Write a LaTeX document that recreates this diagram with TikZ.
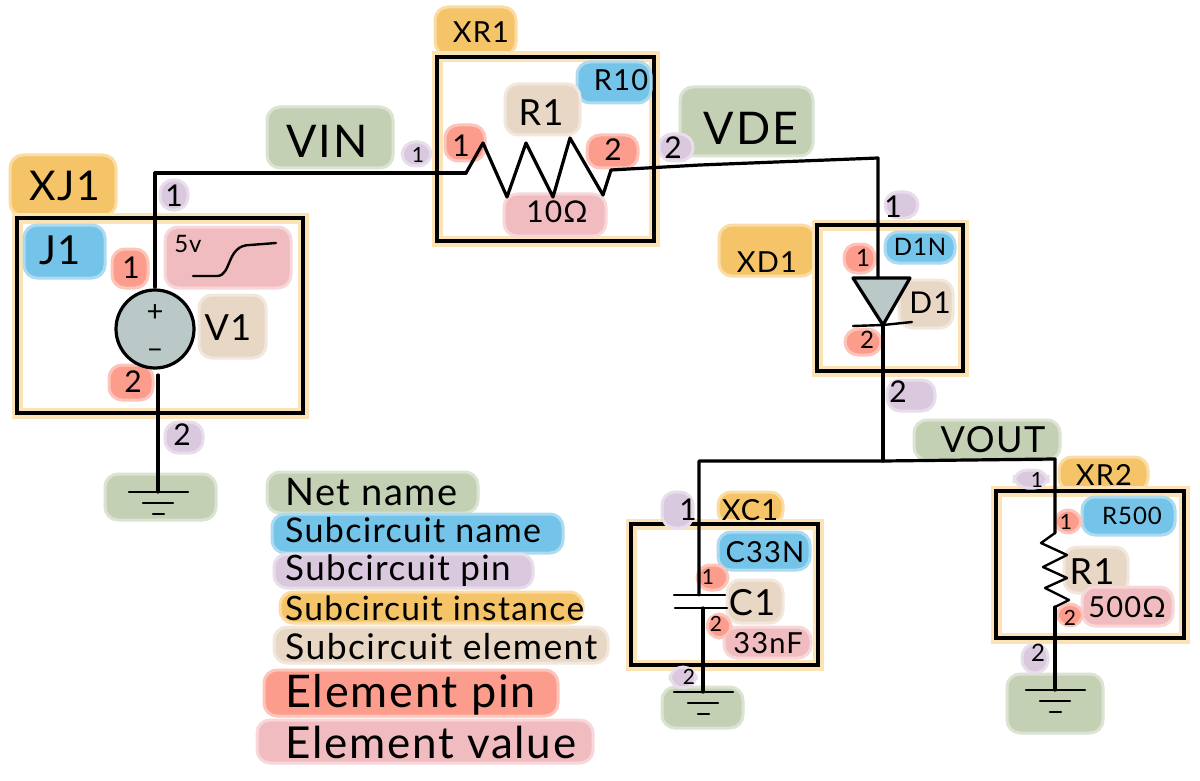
\documentclass[tikz,border=0pt]{standalone}
\usepackage{fontspec}
\setmainfont[LetterSpace=4]{Lato}
\usepackage{tikz}
\usetikzlibrary{positioning}
\definecolor{netgreen}{HTML}{C3D0B4}
\definecolor{subblue}{HTML}{74C3E8}
\definecolor{pinpurple}{HTML}{D9C8DE}
\definecolor{instorange}{HTML}{F6C468}
\definecolor{framelight}{HTML}{FBE3B6}
\definecolor{elemtan}{HTML}{E8D7C5}
\definecolor{pinred}{HTML}{FB9C8C}
\definecolor{valpink}{HTML}{F1BCC0}
\definecolor{devgrey}{HTML}{BAC8C8}
\tikzset{
  wash/.style={fill=#1,draw=#1!60,line width=3pt,rounded corners=13pt},
  frame/.style={shape=rectangle,draw=black,line width=3.2pt,inner sep=0,preaction={draw=framelight,line width=11pt}},
  wire/.style={draw=black,line width=3.2pt,line cap=round,line join=round},
  thin wire/.style={draw=black,line width=2.4pt,line cap=round,line join=round},
  txthuge/.style={font=\fontsize{45}{45}\selectfont},
  txtbig/.style={font=\fontsize{36}{36}\selectfont},
  txtmid/.style={font=\fontsize{29}{29}\selectfont},
  txtpin/.style={font=\fontsize{30}{30}\selectfont},
  txtsmall/.style={font=\fontsize{24}{24}\selectfont},
  txttiny/.style={font=\fontsize{21}{21}\selectfont},
  legend/.style={anchor=west,inner sep=0,font=\fontsize{#1}{#1}\selectfont},
  gnd/.pic={
    \draw[thin wire] (-29,0) -- (30,0);
    \draw[thin wire] (-15,11) -- (15,11);
    \draw[thin wire] (-5,22) -- (6,22);
  }
}
\begin{document}
\begin{tikzpicture}[x=1pt,y=-1pt]
      \fill[white] (0,0) rectangle (1200,781);
      \useasboundingbox (0,0) rectangle (1200,781);
      % instance tabs and frames
      \path[wash=instorange] (10,155) rectangle (116,216);
      \path[wash=instorange] (435,7) rectangle (516,55);
      \path[wash=instorange] (719,225) rectangle (815,276);
      \path[wash=instorange] (718,492) rectangle (783,524);
      \path[wash=instorange] (1059,457) rectangle (1148,491);
      \node[frame,minimum width=286pt,minimum height=195pt] (xj1box) at (160,315.5) {};
      \node[frame,minimum width=217pt,minimum height=184pt] (xr1box) at (545.5,149) {};
      \node[frame,minimum width=146pt,minimum height=146pt] (xd1box) at (890,298) {};
      \node[frame,minimum width=187pt,minimum height=141pt] (xc1box) at (724.5,594.5) {};
      \node[frame,minimum width=188pt,minimum height=147pt] (xr2box) at (1090,564.5) {};
      % net names
      \path[wash=netgreen] (267,107) rectangle (393,168);
      \path[wash=netgreen] (680,87) rectangle (813,156);
      \path[wash=netgreen] (914,420) rectangle (1060,460);
      \path[wash=netgreen] (105,474) rectangle (216,520);
      \path[wash=netgreen] (662,687) rectangle (743,728);
      \path[wash=netgreen] (1007,674) rectangle (1103,733);
      % subcircuit names
      \path[wash=subblue] (24,225) rectangle (105,278);
      \path[wash=subblue] (577,62) rectangle (651,103);
      \path[wash=subblue] (885,232) rectangle (955,263);
      \path[wash=subblue] (718,532) rectangle (810,570);
      \path[wash=subblue] (1082,497) rectangle (1175,535);
      % subcircuit pins
      \path[wash=pinpurple] (160,180) rectangle (188,210);
      \path[wash=pinpurple] (165,422) rectangle (203,453);
      \path[wash=pinpurple] (402,142) rectangle (431,166);
      \path[wash=pinpurple] (659,134) rectangle (693,161);
      \path[wash=pinpurple] (885,192) rectangle (918,218);
      \path[wash=pinpurple] (887,380) rectangle (935,411);
      \path[wash=pinpurple] (662,492) rectangle (693,528);
      \path[wash=pinpurple] (670,667) rectangle (696,688);
      \path[wash=pinpurple] (1014,470) rectangle (1048,488);
      \path[wash=pinpurple] (1022,644) rectangle (1048,673);
      % subcircuit elements
      \path[wash=elemtan] (199,295) rectangle (266,358);
      \path[wash=elemtan] (505,84) rectangle (580,135);
      \path[wash=elemtan] (899,280) rectangle (953,328);
      \path[wash=elemtan] (727,580) rectangle (783,623);
      \path[wash=elemtan] (1064,547) rectangle (1128,593);
      % element values
      \path[wash=valpink] (165,227) rectangle (291,288);
      \path[wash=valpink] (504,194) rectangle (606,236);
      \path[wash=valpink] (724,627) rectangle (811,658);
      \path[wash=valpink] (1082,587) rectangle (1173,626);
      % element pins
      \path[wash=pinred] (112,249) rectangle (148,288);
      \path[wash=pinred] (109,365) rectangle (153,400);
      \path[wash=pinred] (445,125) rectangle (485,161);
      \path[wash=pinred] (587,135) rectangle (638,168);
      \path[wash=pinred] (844,244) rectangle (875,273);
      \path[wash=pinred] (845,329) rectangle (881,355);
      \path[wash=pinred] (697,565) rectangle (728,590);
      \path[wash=pinred] (707,614) rectangle (731,638);
      \path[wash=pinred] (1055,510) rectangle (1081,533);
      \path[wash=pinred] (1057,604) rectangle (1083,626);
      % legend washes
      \path[wash=netgreen] (267,472) rectangle (478,513);
      \path[wash=subblue] (272,514) rectangle (563,553);
      \path[wash=pinpurple] (274,554) rectangle (533,588);
      \path[wash=instorange] (280,592) rectangle (583,623);
      \path[wash=elemtan] (274,627) rectangle (608,663);
      \path[wash=pinred] (264,670) rectangle (558,716);
      \path[wash=valpink] (257,720) rectangle (593,763);
      % devices and junctions
      \node[shape=circle,draw=black,fill=devgrey,line width=3.2pt,minimum size=78pt,inner sep=0] (v1src) at (155,329) {};
      \coordinate (topv) at (155,287);
      \coordinate (botv) at (158,375);
      \coordinate (r1a) at (466,173);
      \coordinate (r1b) at (611,170);
      \coordinate (vdebend) at (878,158);
      \coordinate (d1a) at (853,278);
      \coordinate (d1b) at (910,278);
      \coordinate (d1c) at (883,325);
      \coordinate (vouta) at (883,461);
      \coordinate (voutb) at (1055,459);
      \coordinate (c1a) at (699,595);
      \coordinate (c1b) at (703,608);
      \coordinate (r2a) at (1055,533);
      \coordinate (r2b) at (1055,607);
      \coordinate (gnd1) at (158,492);
      \coordinate (gnd2) at (703,692);
      \coordinate (gnd3) at (1055,690);
      % wires
      \draw[wire] (topv) |- (r1a);
      \draw[wire] (r1a) -- ++(17,-30) -- ++(24,54) -- ++(19,-54) -- ++(27,54) -- ++(17,-59) -- ++(33,57) -- (r1b);
      \draw[wire] (r1b) -- (700,165) -- (vdebend) -- (d1a -| vdebend);
      \draw[wire,fill=devgrey] (d1a) -- (d1b) -- (d1c) -- cycle;
      \draw[thin wire] (853,326) -- (d1c) -- (912,322);
      \draw[wire] (d1c) -- (vouta);
      \draw[wire] (c1a) |- (vouta) -- (voutb) -- (r2a);
      \draw[thin wire] (674,595) -- (c1a) -- (725,595);
      \draw[thin wire] (675,608) -- (c1b) -- (727,608);
      \draw[wire] (c1b) -- (gnd2);
      \draw[thin wire] (r2a) -- ++(-14,10) -- ++(26,12) -- ++(-24,12) -- ++(24,11) -- ++(-22,10) -- ++(24,12) -- (r2b);
      \draw[wire] (r2b) -- (gnd3);
      \draw[wire] (botv) -- (gnd1);
      \draw[thin wire] (193,276) -- (217,276) .. controls (232,276) and (226,245) .. (250,245) -- (276,243);
      \path (gnd1) pic {gnd};
      \path (gnd2) pic {gnd};
      \path (gnd3) pic {gnd};
      % labels
      \node[txthuge] (lblvin) at (327,141) {VIN};
      \node[txthuge] (lblvde) at (751,128) {VDE};
      \node[txtbig] (lblvout) at (993,440) {VOUT};
      \node[font=\fontsize{41}{41}\selectfont] (lblxj1) at (65,186) {XJ1};
      \node[txtmid] (lblxr1) at (481,32) {XR1};
      \node[txtmid] (lblxd1) at (767,262) {XD1};
      \node[txtmid] (lblxc1) at (750,510) {XC1};
      \node[txtmid] (lblxr2) at (1104,475) {XR2};
      \node[font=\fontsize{40}{40}\selectfont] (lbljone) at (60,250) {J1};
      \node[txtmid] (lblrten) at (621,80) {R10};
      \node[txtsmall] (lbldin) at (920,247) {D1N};
      \node[txtmid] (lblcn) at (765,552) {C33N};
      \node[txtsmall] (lblrfive) at (1132,516) {R500};
      \node[txtbig] (lblv1) at (228,328) {V1};
      \node[txtbig] (lblr1) at (541,113) {R1};
      \node[txtpin] (lbld1) at (930,303) {D1};
      \node[txtbig] (lblc1) at (752,603) {C1};
      \node[txtbig] (lblr1b) at (1092,572) {R1};
      \node[txtsmall] (lblfive) at (188,244) {5v};
      \node[txtpin] (lblten) at (557,212) {10Ω};
      \node[txtmid] (lblnf) at (768,643) {33nF};
      \node[txtmid] (lblohm) at (1127,607) {500Ω};
      \node[txtmid] (lblplus) at (155,313) {+};
      \node[txtmid] (lblminus) at (155,354) {\char"2013};
      \node[txtpin] (ep1a) at (131,268) {1};
      \node[txtpin] (ep2a) at (133,382) {2};
      \node[txtpin] (ep1b) at (461,146) {1};
      \node[txtpin] (ep2b) at (613,150) {2};
      \node[txtsmall] (ep1c) at (863,258) {1};
      \node[txtsmall] (ep2c) at (867,340) {2};
      \node[txttiny] (ep1d) at (708,577) {1};
      \node[txttiny] (ep2d) at (716,624) {2};
      \node[txttiny] (ep1e) at (1066,522) {1};
      \node[txttiny] (ep2e) at (1070,618) {2};
      \node[txtpin] (sp1a) at (174,196) {1};
      \node[txtpin] (sp2a) at (182,435) {2};
      \node[txttiny] (sp1b) at (418,155) {1};
      \node[txtpin] (sp2b) at (673,148) {2};
      \node[txtpin] (sp1c) at (893,207) {1};
      \node[txtpin] (sp2c) at (898,392) {2};
      \node[txtpin] (sp1d) at (688,510) {1};
      \node[txttiny] (sp2d) at (689,677) {2};
      \node[txttiny] (sp1e) at (1037,480) {1};
      \node[txtsmall] (sp2e) at (1038,653) {2};
      % legend
      \node[legend=38] (lgnet) at (285,492) {Net name};
      \node[legend=34] (lgname) at (285,530) {Subcircuit name};
      \node[legend=35] (lgpin) at (285,571) {Subcircuit pin};
      \node[legend=33.5] (lginst) at (285,608) {Subcircuit instance};
      \node[legend=35.5] (lgelem) at (285,647) {Subcircuit element};
      \node[legend=45] (lgepin) at (285,695) {Element pin};
      \node[legend=44] (lgeval) at (285,742) {Element value};
    \end{tikzpicture}
\end{document}
